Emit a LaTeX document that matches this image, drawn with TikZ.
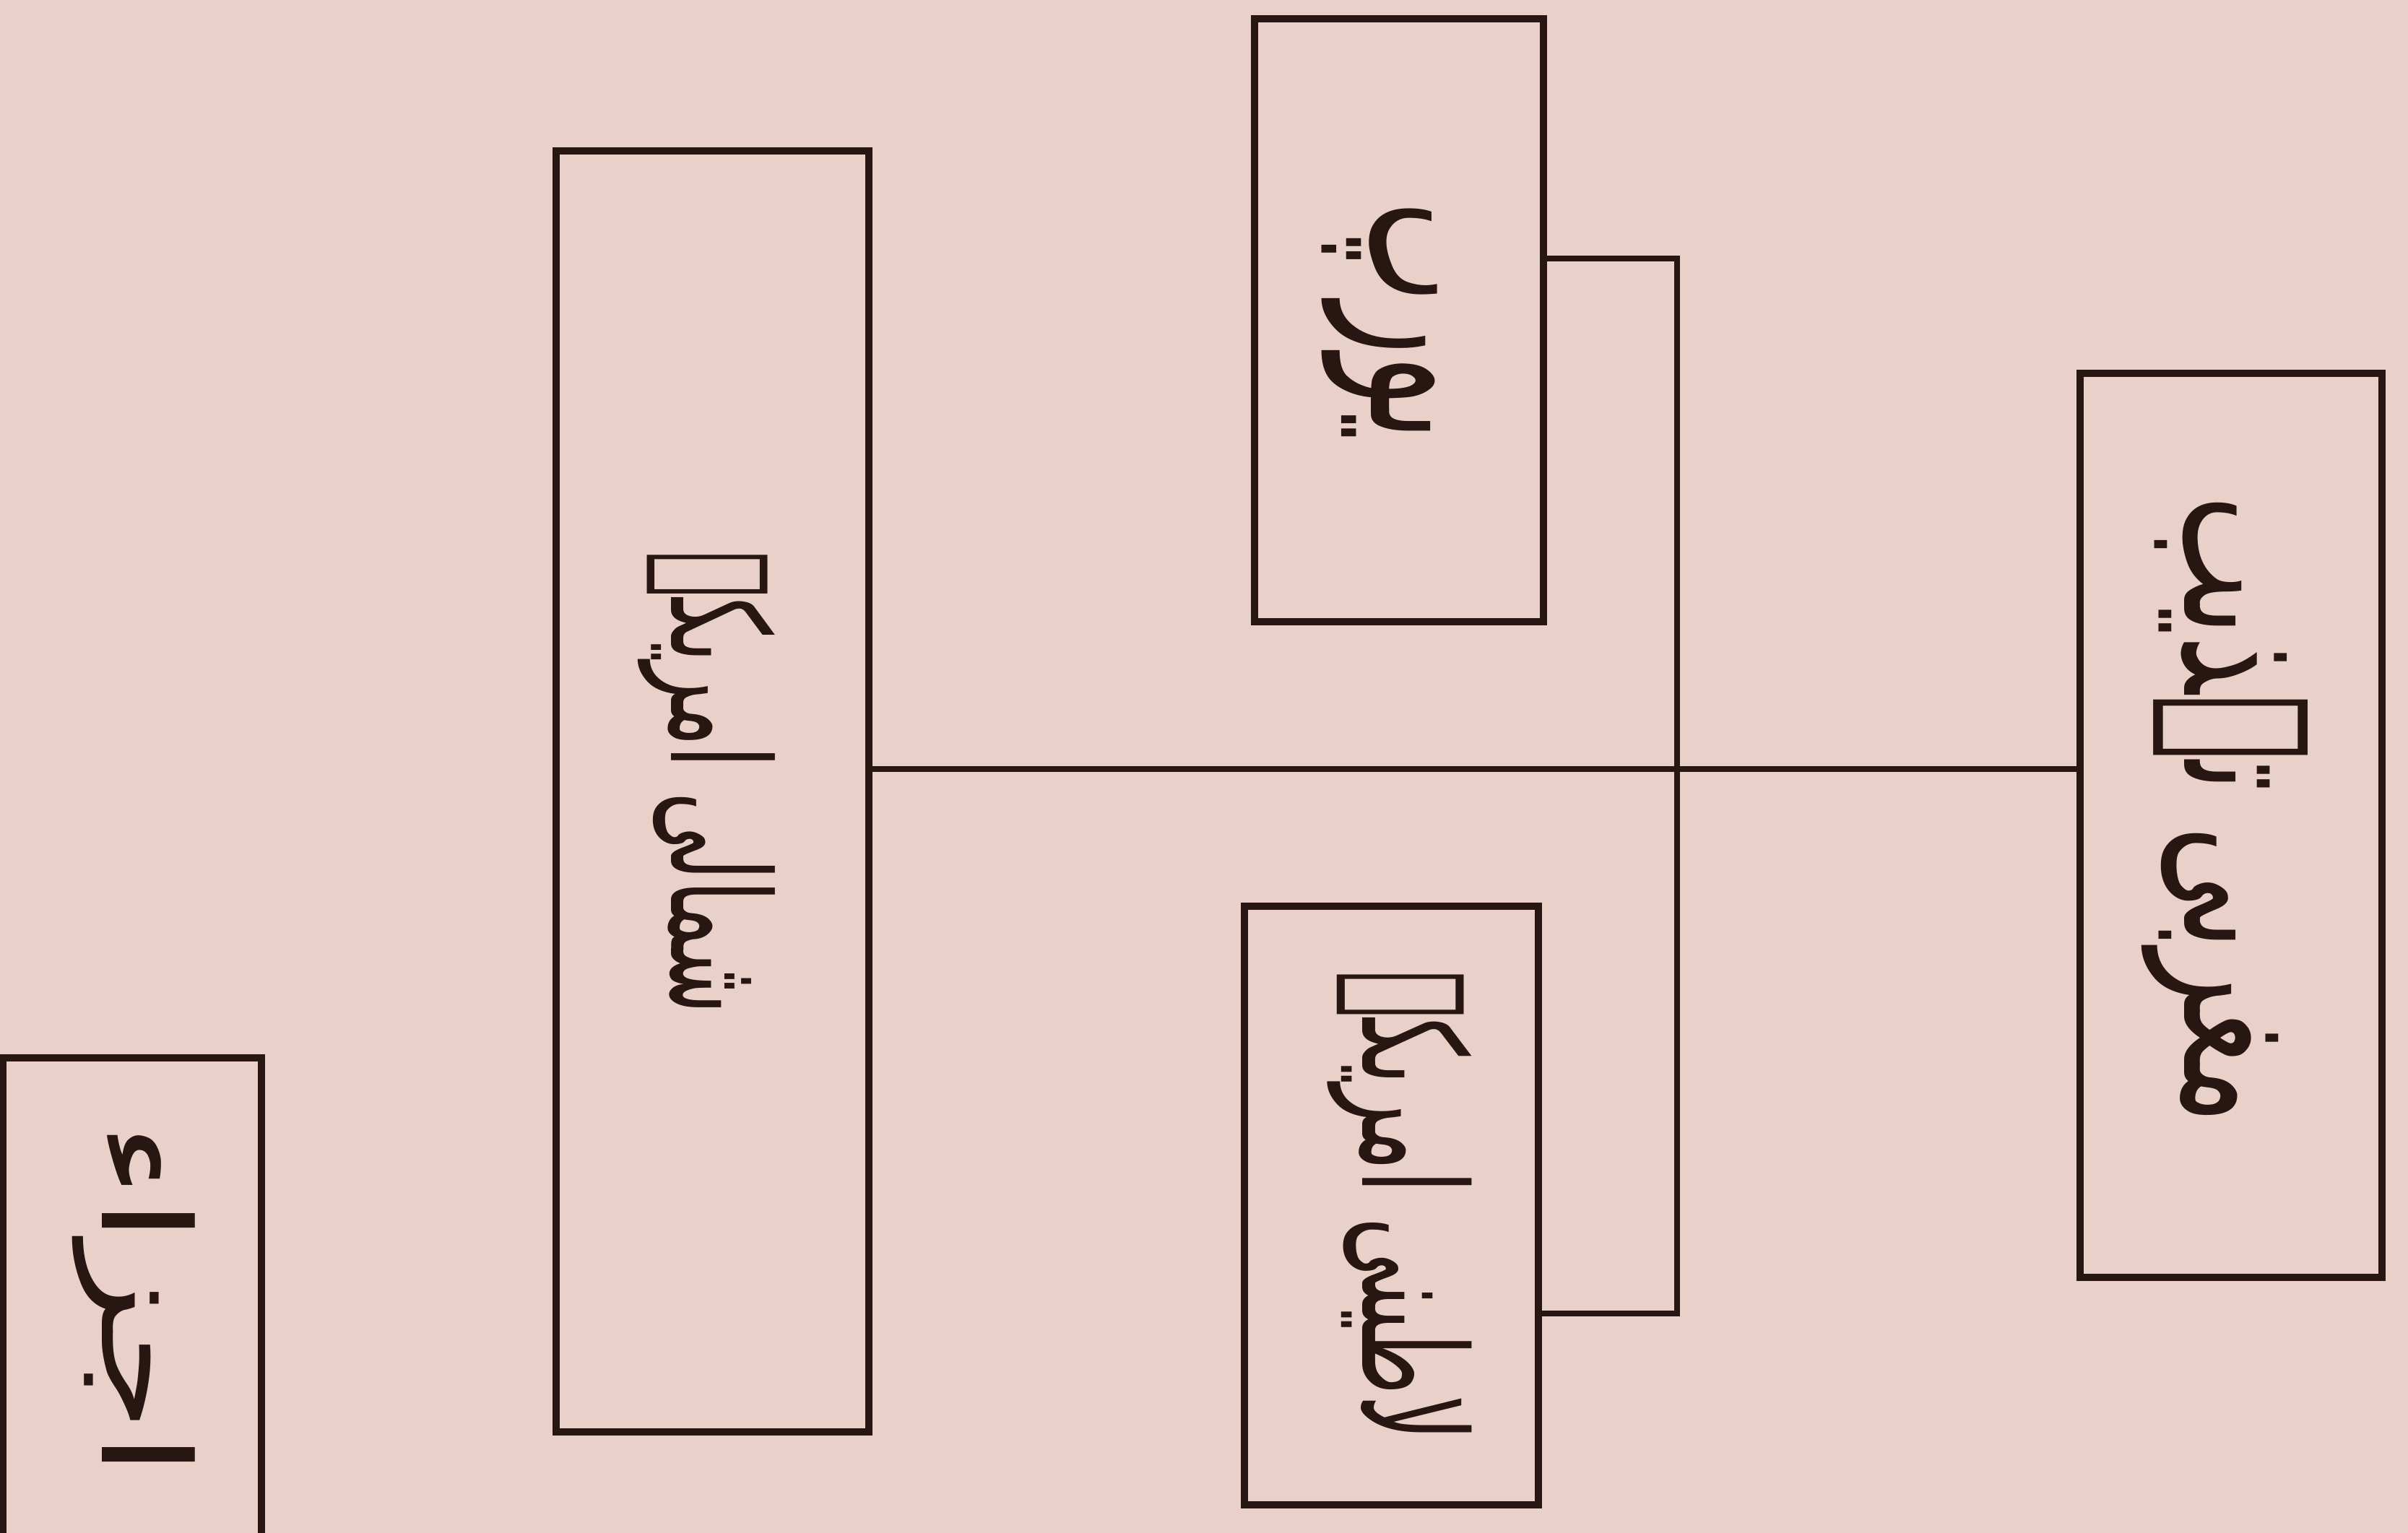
\documentclass[tikz,border=0pt]{standalone}
\usepackage{graphicx}
\usepackage{fontspec}
\newfontfamily\urdufont[Script=Arabic]{DejaVu Sans}
\TeXXeTstate=1
\definecolor{paper}{RGB}{233,209,202}
\definecolor{ink}{RGB}{40,22,18}
\begin{document}
\begin{tikzpicture}[x=1cm,y=1cm,
  box/.style={draw=ink, line width=3pt, rectangle, inner sep=0pt},
  conn/.style={draw=ink, line width=2.4pt},
  lbl/.style={text=ink, rotate=-90, inner sep=0pt, font=\urdufont}]
\fill[paper] (0,0) rectangle (33.34,-21.23);
\useasboundingbox (0,0) rectangle (33.34,-21.23);
% boxes
\node[box, minimum width=4.18cm, minimum height=12.52cm] (R) at (30.89,-11.43) {};
\node[box, minimum width=4.33cm, minimum height=17.74cm] (M) at (9.865,-10.96) {};
\node[box, minimum width=4.00cm, minimum height=8.35cm] (T) at (19.37,-4.435) {};
\node[box, minimum width=4.07cm, minimum height=8.29cm] (B) at (19.265,-16.695) {};
\node[box, minimum width=3.58cm, minimum height=7.85cm] (L) at (1.83,-18.575) {};
% labels
\node[lbl] (Rt) at (30.80,-11.22) {\resizebox*{8.7cm}{2.3cm}{\beginR مغربی تہذیب\endR}};
\node[lbl] (Mt) at (9.78,-10.84) {\resizebox*{6.4cm}{1.9cm}{\beginR شمالی امریکہ\endR}};
\node[lbl] (Tt) at (19.10,-4.45) {\resizebox*{3.3cm}{1.6cm}{\beginR یورپ\endR}};
\node[lbl] (Bt) at (19.38,-16.70) {\resizebox*{6.5cm}{2.0cm}{\beginR لاطینی امریکہ\endR}};
\node[lbl] (Lt) at (1.85,-18.00) {\resizebox*{4.9cm}{1.7cm}{\beginR اجزاء\endR}};
% connectors
\coordinate (J) at (23.22,-10.65);
\coordinate (Tc) at (23.22,-3.58);
\coordinate (Bc) at (23.22,-18.19);
\draw[conn] (M.east |- J) -- (R.west |- J);
\draw[conn] (T.east |- Tc) -- (Tc) -- (Bc) -- (B.east |- Bc);
\end{tikzpicture}
\end{document}
